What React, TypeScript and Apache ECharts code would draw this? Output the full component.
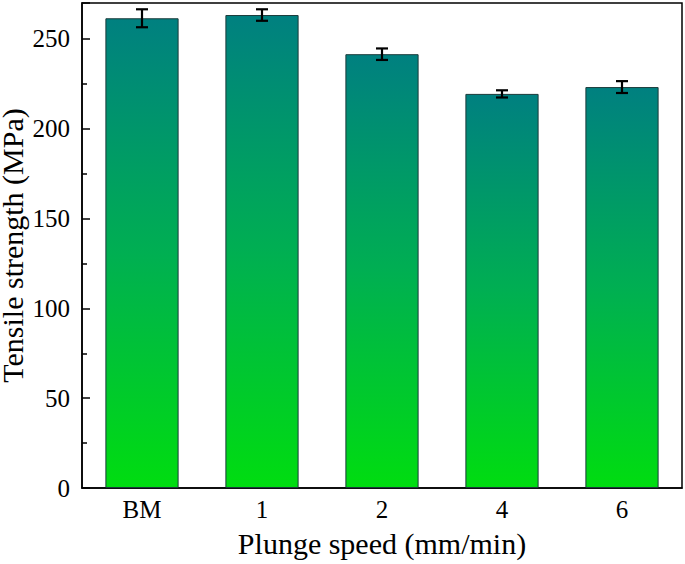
import React, { useEffect, useRef } from "react";
import * as echarts from "echarts";

const categories = ["BM", "1", "2", "4", "6"];
const strength = [261.5, 263.3, 241.5, 219.4, 223.2];
const errors = [5.0, 3.2, 3.2, 2.0, 3.3];
const yTicks = [0, 50, 100, 150, 200, 250];

export default function App() {
  const ref = useRef<HTMLDivElement>(null);
  useEffect(() => {
    if (!ref.current) return;
    const chart = echarts.init(ref.current, null, { renderer: "svg" });
    const font = "'Liberation Serif', 'Times New Roman', serif";
    const errData = strength.map((v, i) => [i, v - errors[i], v + errors[i]]);
    chart.setOption({
      animation: false,
      grid: {
        left: 82,
        right: 3,
        top: 3,
        bottom: 76,
        containLabel: false,
        outerBoundsMode: "none",
        show: true,
        borderColor: "#000",
        borderWidth: 1.5,
      },
      xAxis: [
        {
          type: "category",
          data: categories,
          axisLine: { lineStyle: { color: "#000", width: 1.5 } },
          axisTick: { alignWithLabel: true, inside: true, length: 8, lineStyle: { color: "#000", width: 1.5 } },
          axisLabel: { color: "#000", fontFamily: font, fontSize: 25, margin: 9 },
          name: "Plunge speed (mm/min)",
          nameLocation: "middle",
          nameGap: 40,
          nameTextStyle: { color: "#000", fontFamily: font, fontSize: 30 },
        },
        {
          type: "category",
          data: categories,
          position: "bottom",
          axisLine: { show: false },
          axisTick: { inside: true, length: 4, lineStyle: { color: "#000", width: 1.5 } },
          axisLabel: { show: false },
        },
      ],
      yAxis: {
        type: "value",
        min: 0,
        max: 270,
        interval: 50,
        splitLine: { show: false },
        axisLine: { show: true, lineStyle: { color: "#000", width: 1.5 } },
        axisTick: { show: true, inside: true, length: 8, lineStyle: { color: "#000", width: 1.5 } },
        minorTick: { show: true, splitNumber: 2, length: 5, lineStyle: { color: "#000", width: 1.5 } },
        axisLabel: {
          color: "#000",
          fontFamily: font,
          fontSize: 25,
          margin: 12,
          formatter: (v: number) => (yTicks.includes(v) ? String(v) : ""),
        },
        name: "Tensile strength (MPa)",
        nameLocation: "middle",
        nameMoveOverlap: false,
        nameGap: 55,
        nameTextStyle: { color: "#000", fontFamily: font, fontSize: 30 },
      },
      series: [
        {
          type: "bar",
          data: strength,
          barWidth: "61%",
          itemStyle: {
            borderColor: "#1a3a3a",
            borderWidth: 1,
            color: new echarts.graphic.LinearGradient(0, 0, 0, 1, [
              { offset: 0, color: "#008080" },
              { offset: 0.5, color: "#00AF52" },
              { offset: 1, color: "#00DD10" },
            ]),
          },
        },
        {
          type: "custom",
          data: errData,
          encode: { x: 0, y: [1, 2] },
          z: 5,
          renderItem: (params: any, api: any) => {
            const i = api.value(0);
            const lo = api.coord([i, api.value(1)]);
            const hi = api.coord([i, api.value(2)]);
            const hw = 6;
            const style = { stroke: "#000", lineWidth: 2.2 };
            return {
              type: "group",
              children: [
                { type: "line", shape: { x1: lo[0], y1: lo[1], x2: hi[0], y2: hi[1] }, style },
                { type: "line", shape: { x1: lo[0] - hw, y1: lo[1], x2: lo[0] + hw, y2: lo[1] }, style },
                { type: "line", shape: { x1: hi[0] - hw, y1: hi[1], x2: hi[0] + hw, y2: hi[1] }, style },
              ],
            };
          },
        },
      ],
    });
    return () => chart.dispose();
  }, []);
  return (
    <div
      ref={ref}
      style={{ position: "fixed", left: 0, top: 0, width: 685, height: 564, background: "#fff" }}
    />
  );
}
